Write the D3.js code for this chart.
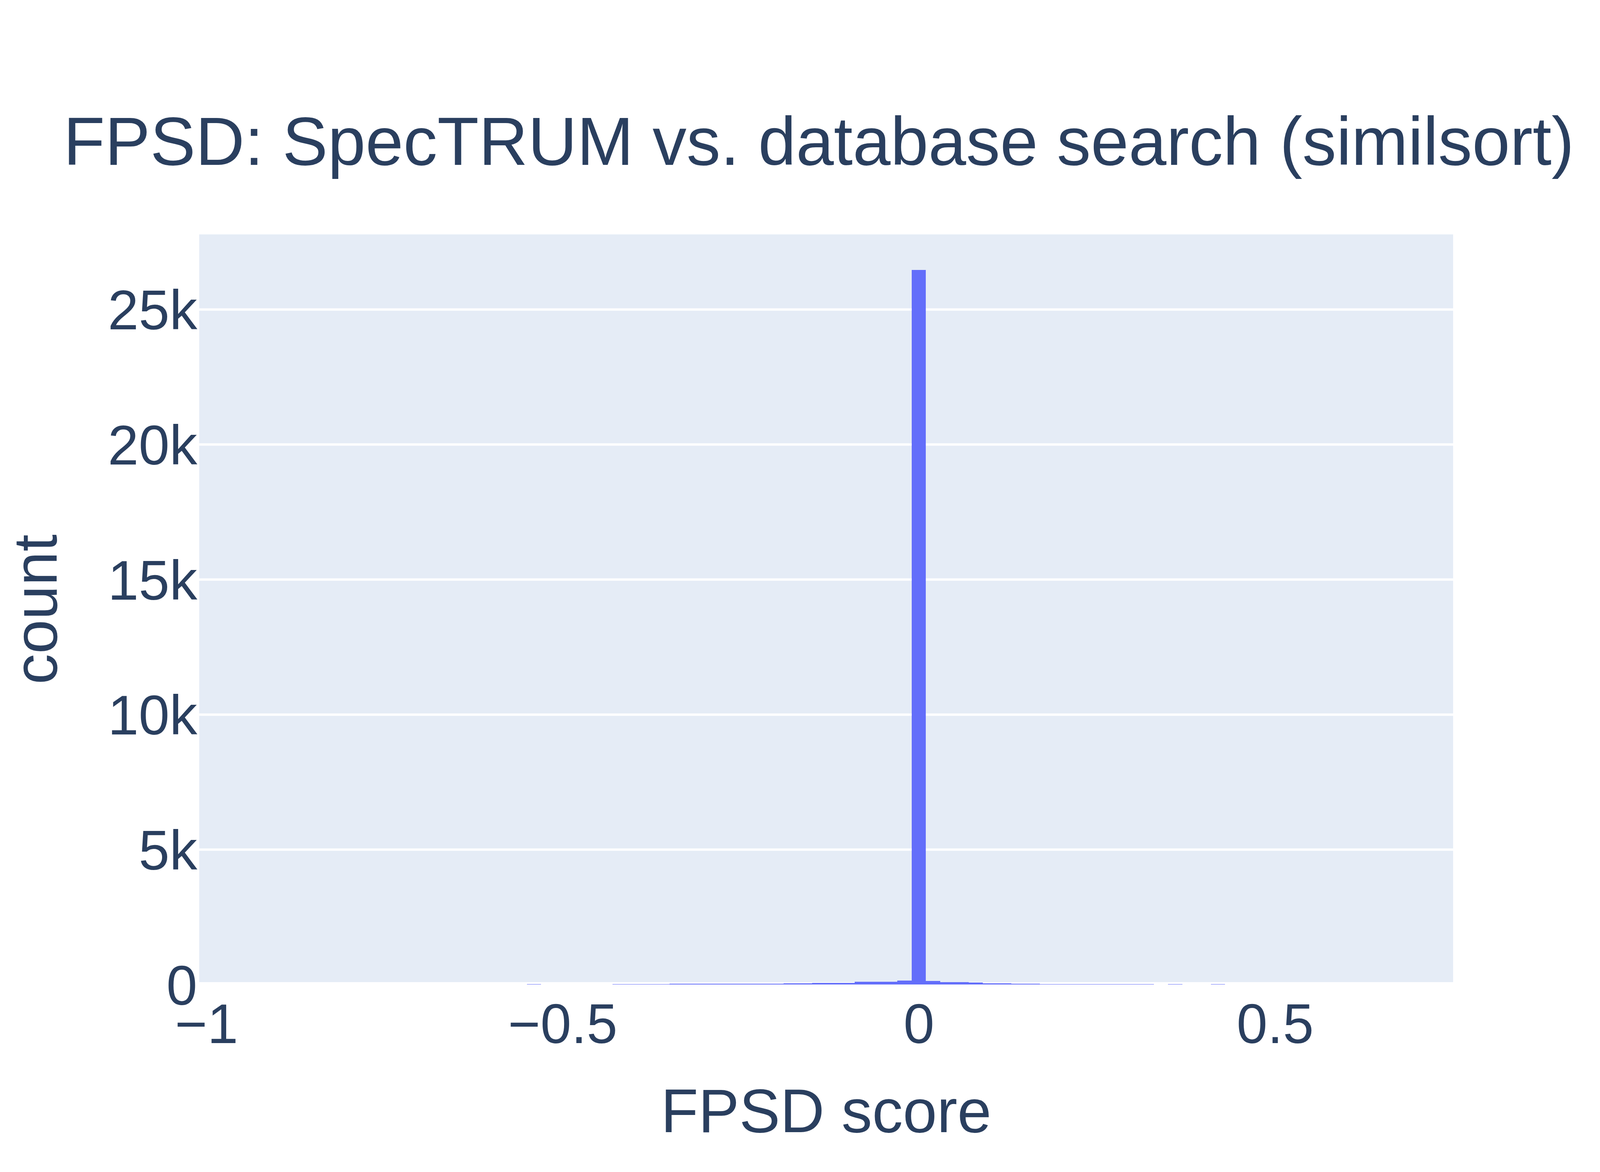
<!DOCTYPE html>
<html>
<head>
<meta charset="utf-8">
<script src="https://cdn.jsdelivr.net/npm/d3@7"></script>
<style>
  html, body { margin: 0; padding: 0; background: #ffffff; }
  svg { display: block; }
  text { font-family: "Liberation Sans", Arial, sans-serif; fill: #2a3f5f; }
</style>
</head>
<body>
<script>
// ---- data (histogram of FPSD score, bin size 0.02, centred on bin centres) ----
const binSize = 0.02;
const binCenters = [
  -0.54,
  -0.42, -0.40, -0.38, -0.36,
  -0.34, -0.32, -0.30, -0.28, -0.26, -0.24, -0.22, -0.20,
  -0.18, -0.16,
  -0.14, -0.12, -0.10,
  -0.08, -0.06, -0.04,
  -0.02,
  0.00,
  0.02,
  0.04, 0.06,
  0.08,
  0.10, 0.12,
  0.14, 0.16,
  0.18, 0.20, 0.22, 0.24, 0.26, 0.28, 0.30, 0.32,
  0.36,
  0.42
];
const counts = [
  15,
  15, 15, 15, 15,
  29, 29, 29, 29, 29, 29, 29, 29,
  43, 43,
  58, 58, 58,
  101, 101, 101,
  145,
  26450,
  130,
  87, 87,
  72,
  43, 43,
  29, 29,
  15, 15, 15, 15, 15, 15, 15, 15,
  15,
  15
];
const xTickValues = [-1, -0.5, 0, 0.5];
const xTickLabels = ["\u22121", "\u22120.5", "0", "0.5"];
const yTickValues = [0, 5000, 10000, 15000, 20000, 25000];
const yTickLabels = ["0", "5k", "10k", "15k", "20k", "25k"];
const xDomain = [-1.01, 0.75];
const titleText = "FPSD: SpecTRUM vs. database search (similsort)";
const xTitle = "FPSD score";
const yTitle = "count";

// ---- layout ----
const W = 4200, H = 3000;
const plot = { left: 510, right: 3720, top: 600, bottom: 2520 };
const barColor = "#636efa";
const bgColor = "#e5ecf6";

const svg = d3.select("body").append("svg")
  .attr("width", W).attr("height", H)
  .attr("viewBox", `0 0 ${W} ${H}`);

svg.append("rect").attr("width", W).attr("height", H).attr("fill", "#ffffff");

const x = d3.scaleLinear().domain(xDomain).range([plot.left, plot.right]);
const yMax = d3.max(counts) * 1.05;
const y = d3.scaleLinear().domain([0, yMax]).range([plot.bottom, plot.top]);

svg.append("defs").append("clipPath").attr("id", "plotclip")
  .append("rect")
  .attr("x", plot.left).attr("y", plot.top)
  .attr("width", plot.right - plot.left).attr("height", plot.bottom - plot.top);

// plot background
svg.append("rect")
  .attr("x", plot.left).attr("y", plot.top)
  .attr("width", plot.right - plot.left).attr("height", plot.bottom - plot.top)
  .attr("fill", bgColor);

const plotG = svg.append("g").attr("clip-path", "url(#plotclip)");

// y gridlines via axis
const yGrid = d3.axisLeft(y)
  .tickValues(yTickValues.filter(v => v !== 0))
  .tickSize(-(plot.right - plot.left))
  .tickFormat("");
const gridG = plotG.append("g")
  .attr("transform", `translate(${plot.left},0)`)
  .call(yGrid);
gridG.select(".domain").remove();
gridG.selectAll(".tick line").attr("stroke", "#ffffff").attr("stroke-width", 6);

// zero line
plotG.append("line")
  .attr("x1", plot.left).attr("x2", plot.right)
  .attr("y1", y(0)).attr("y2", y(0))
  .attr("stroke", "#ffffff").attr("stroke-width", 12);

// bars
const bins = binCenters.map((c, i) => ({ x0: c - binSize / 2, x1: c + binSize / 2, n: counts[i] }));
plotG.append("g").selectAll("rect").data(bins).join("rect")
  .attr("x", d => x(d.x0))
  .attr("width", d => x(d.x1) - x(d.x0))
  .attr("y", d => y(d.n))
  .attr("height", d => y(0) - y(d.n))
  .attr("fill", barColor)
  .attr("shape-rendering", "crispEdges");

// x axis tick labels
const xAxis = d3.axisBottom(x)
  .tickValues(xTickValues)
  .tickSize(0)
  .tickPadding(0)
  .tickFormat((d, i) => xTickLabels[i]);
const xG = svg.append("g").attr("transform", `translate(0,${plot.bottom})`).call(xAxis);
xG.select(".domain").remove();
xG.selectAll("text")
  .attr("y", 150).attr("dy", null)
  .style("font-family", '"Liberation Sans", Arial, sans-serif')
  .style("font-size", "142px")
  .attr("fill", "#2a3f5f");

// y axis tick labels
const yAxis = d3.axisLeft(y)
  .tickValues(yTickValues)
  .tickSize(0)
  .tickPadding(0)
  .tickFormat((d, i) => yTickLabels[i]);
const yG = svg.append("g").attr("transform", `translate(${plot.left - 5},0)`).call(yAxis);
yG.select(".domain").remove();
yG.selectAll("text")
  .attr("x", 0).attr("dy", "0.36em")
  .attr("text-anchor", "end")
  .style("font-family", '"Liberation Sans", Arial, sans-serif')
  .style("font-size", "142px")
  .attr("fill", "#2a3f5f");

// title
svg.append("text")
  .attr("x", 2096).attr("y", 422)
  .attr("text-anchor", "middle")
  .style("font-size", "174px")
  .text(titleText);

// axis titles
svg.append("text")
  .attr("x", (plot.left + plot.right) / 2).attr("y", 2898)
  .attr("text-anchor", "middle")
  .style("font-size", "157px")
  .text(xTitle);

svg.append("text")
  .attr("transform", `translate(145,${(plot.top + plot.bottom) / 2}) rotate(-90)`)
  .attr("text-anchor", "middle")
  .style("font-size", "157px")
  .text(yTitle);
</script>
</body>
</html>
